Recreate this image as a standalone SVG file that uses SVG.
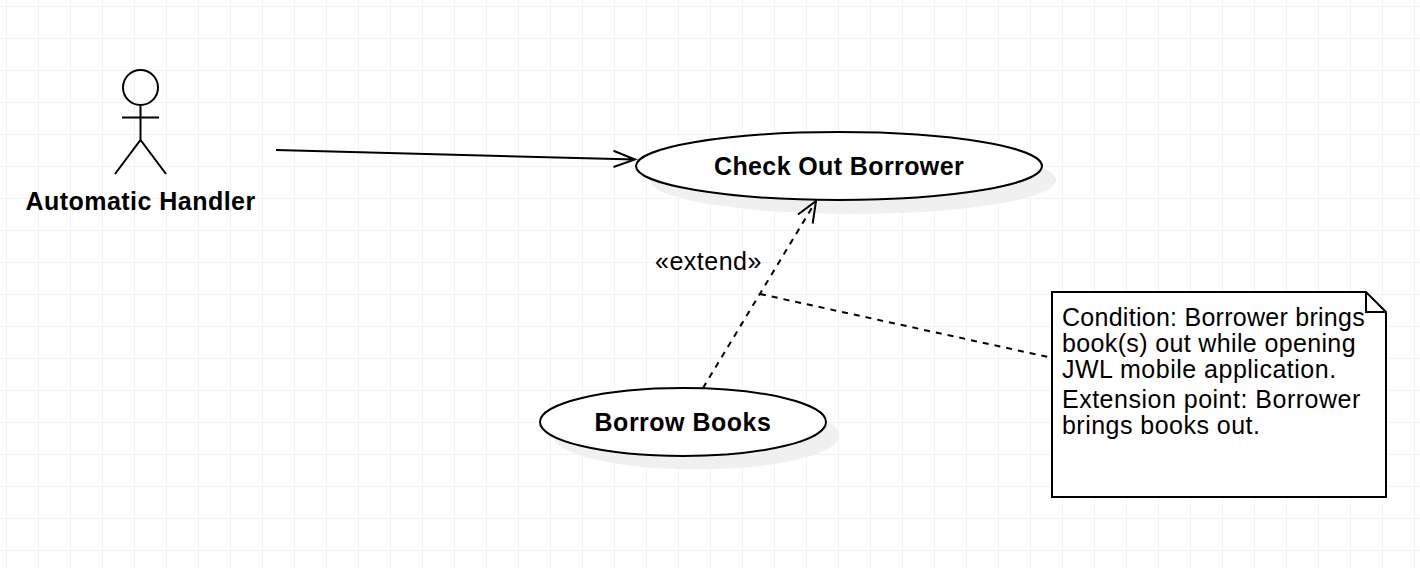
<svg xmlns="http://www.w3.org/2000/svg" width="1420" height="568" viewBox="0 0 1420 568">
<defs>
<style>
.grid{stroke:#f3f3f3;stroke-width:1;fill:none}
.ln{stroke:#000;stroke-width:2;fill:none}
.dash{stroke-dasharray:6 6}
.shape{stroke:#000;stroke-width:2;fill:#fff}
.shadow{fill:#f0f0f0;stroke:none}
text{font-family:"Liberation Sans",Arial,sans-serif;fill:#000}
.b{font-weight:bold;font-size:25px;text-anchor:middle}
.n{font-size:25px}
</style>
<pattern id="g" x="6" y="6" width="32" height="32" patternUnits="userSpaceOnUse"><path d="M0.5 0V32M0 0.5H32" class="grid"/></pattern>
</defs>
<rect width="1420" height="568" fill="#fff"/>
<rect width="1420" height="568" fill="url(#g)"/>
<g id="actor">
<circle cx="140.500" cy="87.500" r="17.500" class="ln"/>
<path class="ln" d="M140.500 105V140M122 117.500H159M115 174L140.500 140L166 174"/>
<text class="b" x="140.500" y="210" letter-spacing="0.47">Automatic Handler</text>
</g>
<g id="check-out">
<ellipse class="shadow" cx="853" cy="180" rx="203" ry="34"/>
<ellipse class="shape" cx="839" cy="166" rx="203" ry="34"/>
<text class="b" x="839" y="175" letter-spacing="0.39">Check Out Borrower</text>
</g>
<g id="borrow-books">
<ellipse class="shadow" cx="696.500" cy="435.500" rx="143" ry="34"/>
<ellipse class="shape" cx="683" cy="422" rx="143" ry="34"/>
<text class="b" x="683" y="431" letter-spacing="0.5">Borrow Books</text>
</g>
<g id="extend-label"><text class="n" x="655" y="270" letter-spacing="0.5">«extend»</text></g>
<g id="note">
<path class="shape" d="M1052 292H1366L1386 312V497H1052Z"/>
<path class="ln" d="M1366 292V312H1386"/>
<text class="n" x="1062" y="326" letter-spacing="0.27">Condition: Borrower brings</text>
<text class="n" x="1062" y="352" letter-spacing="0.36">book(s) out while opening</text>
<text class="n" x="1062" y="378" letter-spacing="0.5">JWL mobile application.</text>
<text class="n" x="1062" y="408" letter-spacing="0.5">Extension point: Borrower</text>
<text class="n" x="1062" y="434" letter-spacing="0.47">brings books out.</text>
</g>
<g id="connectors">
<path class="ln" d="M276 150L635 159.500M613.500 150.700L635 159.500L613.500 167"/>
<path class="ln dash" d="M703 388L816 201"/>
<path class="ln" d="M798 214.500L816 201L812.700 223.500"/>
<path class="ln dash" d="M760 294L1048 357"/>
</g>
</svg>
